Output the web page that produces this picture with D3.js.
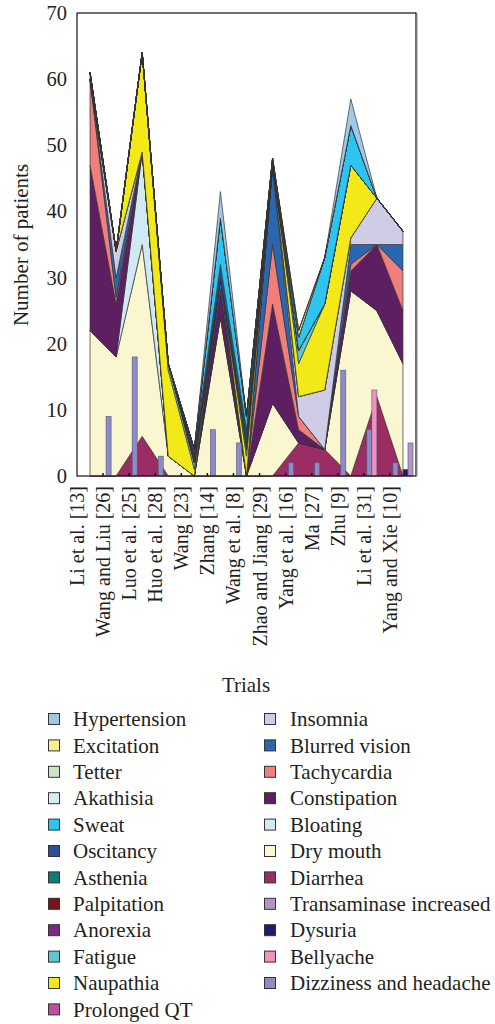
<!DOCTYPE html>
<html><head><meta charset="utf-8">
<script src="https://cdn.jsdelivr.net/npm/d3@7"></script>
<style>body{margin:0;background:#fff}svg{display:block}text{font-family:"Liberation Serif","Times New Roman",serif;fill:#231f20}</style>
</head><body><svg id="c" width="495" height="1024"></svg>
<script>
const trials = ["Li et al. [13]","Wang and Liu [26]","Luo et al. [25]","Huo et al. [28]","Wang [23]","Zhang [14]","Wang et al. [8]","Zhao and Jiang [29]","Yang et al. [16]","Ma [27]","Zhu [9]","Li et al. [31]","Yang and Xie [10]"];
const yTicks = [0,10,20,30,40,50,60,70];

// stacked area series, bottom to top
const diarrhea     = [0,0,6,0,0,0,0,0,5,4,0,12,0];
const dryMouth     = [22,18,29,3,0,24,0,11,0,0,28,13,17];
const bloating     = [0,0,14,0,0,0,0,0,0,0,0,0,0];
const constipation = [25,8,0,0,0,4,0,15,2,0,3,10,8];
const tachycardia  = [13,1,0,0,0,0,0,9,2,0,1,0,6];
const blurred      = [0,3,0,0,0,2,0,12,0,0,3,0,4];
const insomnia     = [0,4,0,0,0,0,0,0,3,9,1,7,2];
const prolongedQT  = [0,0,0,0,0,0,0,0,0,0,0,0,0];
const naupathia    = [0,0,15,13,1,0,3,0,5,13,11,0,0];
const fatigue      = [0,0,0,1,1,0,1,0,2,0,0,0,0];
const anorexia     = [1,0,0,0,0,0,1,0,0,0,0,0,0];
const palpitation  = [0,0,0,0,1,0,0,0,0,0,0,0,0];
const asthenia     = [0,0,0,0,0,0,1,0,0,0,0,0,0];
const oscitancy    = [0,0,0,0,1,2,1,1,0,0,0,0,0];
const sweat        = [0,0,0,0,0,7,2,0,2,7,6,0,0];
const akathisia    = [0,0,0,0,0,0,0,0,0,0,0,0,0];
const tetter       = [0,0,0,0,0,0,0,0,0,0,0,0,0];
const excitation   = [0,0,0,0,0,0,0,0,1,0,0,0,0];
const hypertension = [0,0,0,0,0,4,0,0,0,0,4,0,0];

// column series
const dizziness    = [0,9,18,3,0,7,5,0,2,2,16,7,2];
const bellyache    = [0,0,0,0,0,0,0,0,0,0,0,13,0];
const dysuria      = [0,0,0,0,0,0,0,0,0,0,0,0,1];
const transaminase = [0,0,0,0,0,0,0,0,0,0,0,0,5];

const areaSeries = [
 ["Diarrhea",diarrhea,"#9c2d64"],["Dry mouth",dryMouth,"#faf7d0"],["Bloating",bloating,"#cfeaf2"],
 ["Constipation",constipation,"#5e1e62"],["Tachycardia",tachycardia,"#f27e7c"],["Blurred vision",blurred,"#2b66b0"],
 ["Insomnia",insomnia,"#cfcde6"],["Prolonged QT",prolongedQT,"#c04fa0"],["Naupathia",naupathia,"#f3e919"],
 ["Fatigue",fatigue,"#5cc7cf"],["Anorexia",anorexia,"#7b2a80"],["Palpitation",palpitation,"#7b1416"],
 ["Asthenia",asthenia,"#0f7b7b"],["Oscitancy",oscitancy,"#2f4d9e"],["Sweat",sweat,"#2ec4f0"],
 ["Akathisia",akathisia,"#d5eef5"],["Tetter",tetter,"#cae6c0"],["Excitation",excitation,"#f6f08e"],
 ["Hypertension",hypertension,"#9ec9e8"]];
const barSeries = [["Dizziness and headache",dizziness,"#8c8cc6"],["Bellyache",bellyache,"#f291c0"],
 ["Dysuria",dysuria,"#1c1d6b"],["Transaminase increased",transaminase,"#b493c9"]];

const legendLeft = ["Hypertension","Excitation","Tetter","Akathisia","Sweat","Oscitancy","Asthenia","Palpitation","Anorexia","Fatigue","Naupathia","Prolonged QT"];
const legendRight = ["Insomnia","Blurred vision","Tachycardia","Constipation","Bloating","Dry mouth","Diarrhea","Transaminase increased","Dysuria","Bellyache","Dizziness and headache"];

const colorOf = {};
areaSeries.concat(barSeries).forEach(s=>colorOf[s[0]]=s[2]);

const svg = d3.select("#c");
const L=77, R=416, T=13, B=476;
const x = d3.scaleBand().domain(trials).range([L,R]);
const bw = x.bandwidth();
const y = d3.scaleLinear().domain([0,70]).range([B,T]);

const table = trials.map((t,i)=>{const o={trial:t}; areaSeries.forEach(s=>o[s[0]]=s[1][i]); return o;});
const stacked = d3.stack().keys(areaSeries.map(s=>s[0]))(table);
const area = d3.area().x(d=>x(d.data.trial)+bw/2).y0(d=>y(d[0])).y1(d=>y(d[1]));

const g = svg.append("g");
g.selectAll("path.a").data(stacked).join("path").attr("class","a")
 .attr("d",area).attr("fill",d=>colorOf[d.key]).attr("stroke","#333").attr("stroke-width",0.7).attr("stroke-linejoin","round");

const inner = d3.scaleBand().domain(barSeries.map(s=>s[0])).range([0,bw]).paddingOuter(0.6);
barSeries.forEach(s=>{
  g.selectAll(null).data(s[1].map((v,i)=>({v,t:trials[i]})).filter(d=>d.v>0)).join("rect")
   .attr("x",d=>x(d.t)+inner(s[0])).attr("width",inner.bandwidth())
   .attr("y",d=>y(d.v)).attr("height",d=>y(0)-y(d.v))
   .attr("fill",s[2]).attr("stroke","#55557a").attr("stroke-width",0.6);
});

// frame
svg.append("rect").attr("x",L).attr("y",T).attr("width",R-L).attr("height",B-T).attr("fill","none").attr("stroke","#111").attr("stroke-width",1.2);
svg.append("line").attr("x1",R+0.8).attr("x2",R+0.8).attr("y1",T).attr("y2",B).attr("stroke","#777").attr("stroke-width",1.2);

// x axis ticks (inside) and labels
svg.selectAll(null).data(trials.slice(1)).join("line")
 .attr("x1",d=>x(d)).attr("x2",d=>x(d)).attr("y1",B).attr("y2",B-3).attr("stroke","#111").attr("stroke-width",1.5);
svg.selectAll(null).data(trials).join("text")
 .attr("transform",d=>`translate(${x(d)},486) rotate(-90)`)
 .attr("text-anchor","end").attr("dy","0.35em").style("font-size","20px").text(d=>d);

// y axis
const ya = svg.append("g").attr("transform",`translate(${L},0)`)
 .call(d3.axisLeft(y).tickValues(yTicks).tickSize(0).tickPadding(10));
ya.select(".domain").remove();
ya.selectAll("text").style("font-size","20.5px").style("font-family","Liberation Serif").attr("fill","#231f20");

svg.append("text").attr("transform","translate(28,245) rotate(-90)").attr("text-anchor","middle").style("font-size","21px").text("Number of patients");
svg.append("text").attr("x",246).attr("y",692).attr("text-anchor","middle").style("font-size","21px").text("Trials");

// legend
const rowH = 26.4, y0 = 719.5;
function legendCol(items, sx, tx){
  items.forEach((name,i)=>{
    const cy = y0 + i*rowH;
    svg.append("rect").attr("x",sx).attr("y",cy-6).attr("width",11).attr("height",11)
      .attr("fill",colorOf[name]).attr("stroke","#333").attr("stroke-width",1);
    svg.append("text").attr("x",tx).attr("y",cy).attr("dy","0.32em").style("font-size","21px").text(name);
  });
}
legendCol(legendLeft, 48.5, 73);
legendCol(legendRight, 264.5, 290);
</script></body></html>
